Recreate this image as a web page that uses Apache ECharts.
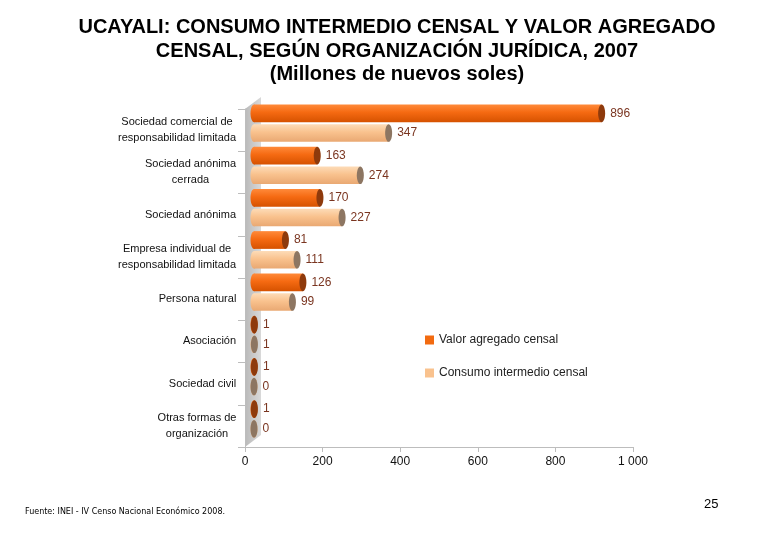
<!DOCTYPE html>
<html style="height: 100%">
<head>
    <meta charset="utf-8">
    <script src="https://cdn.jsdelivr.net/npm/echarts@6/dist/echarts.min.js"></script>
</head>
<body style="height: 100%; margin: 0; background: #fff">
    <div id="container" style="width: 766px; height: 540px"></div>
    <script type="text/javascript">
        var categories = [
            'Sociedad comercial de\nresponsabilidad limitada',
            'Sociedad anónima\ncerrada',
            'Sociedad anónima',
            'Empresa individual de\nresponsabilidad limitada',
            'Persona natural',
            'Asociación',
            'Sociedad civil',
            'Otras formas de\norganización'
        ];
        var valorAgregado = [896, 163, 170, 81, 126, 1, 1, 1];
        var consumoIntermedio = [347, 274, 227, 111, 99, 1, 0, 0];
        var xTicks = [0, 200, 400, 600, 800, 1000];

        var dom = document.getElementById('container');
        var myChart = echarts.init(dom);

        // colours for the two cylinder series
        var styles = [
            { top: '#ff8a3a', mid: '#f56a12', bot: '#d65200', cap: '#8e3a0c', legend: '#f26a10' },
            { top: '#fddcb8', mid: '#f9c28e', bot: '#e9a872', cap: '#8d7662', legend: '#f9c28e' }
        ];

        // y labels: block right aligned, lines centred inside the block
        var labelFont = '11px "Liberation Sans", Arial, sans-serif';
        var ctx = document.createElement('canvas').getContext('2d');
        ctx.font = labelFont;
        var rich = {};
        categories.forEach(function (c, i) {
            var w = 0;
            c.split('\n').forEach(function (l) { w = Math.max(w, ctx.measureText(l).width); });
            rich['c' + i] = {
                width: Math.ceil(w) + 1,
                align: 'center',
                fontFamily: 'Liberation Sans',
                fontSize: 11,
                lineHeight: 16,
                color: '#111'
            };
        });

        function cylinder(sIdx) {
            var st = styles[sIdx];
            return function (params, api) {
                var i = api.value(0);
                var v = api.value(1);
                var start = api.coord([0, i]);
                var end = api.coord([v, i]);
                var band = api.size([0, 1])[1];
                var t = band * 0.42;
                var cy = start[1] + (sIdx === 0 ? -(t / 2 + 1) : (t / 2 + 1));
                var rx = 3.5;
                var grad = new echarts.graphic.LinearGradient(0, 0, 0, 1, [
                    { offset: 0, color: st.top },
                    { offset: 0.45, color: st.mid },
                    { offset: 1, color: st.bot }
                ]);
                return {
                    type: 'group',
                    children: [
                        {
                            type: 'ellipse',
                            shape: { cx: start[0], cy: cy, rx: rx, ry: t / 2 },
                            style: { fill: grad }
                        },
                        {
                            type: 'rect',
                            shape: { x: start[0], y: cy - t / 2, width: end[0] - start[0], height: t },
                            style: { fill: grad }
                        },
                        {
                            type: 'ellipse',
                            shape: { cx: end[0], cy: cy, rx: rx, ry: t / 2 },
                            style: { fill: st.cap }
                        },
                        {
                            type: 'text',
                            x: end[0] + rx + 5,
                            y: cy,
                            style: {
                                text: String(v),
                                fill: '#7a3520',
                                font: '12px "Liberation Sans", Arial, sans-serif',
                                verticalAlign: 'middle',
                                align: 'left'
                            }
                        }
                    ]
                };
            };
        }

        function toData(arr) {
            return arr.map(function (v, i) { return [i, v]; });
        }

        var option = {
            backgroundColor: '#fff',
            animation: false,
            title: {
                text: 'UCAYALI: CONSUMO INTERMEDIO CENSAL Y VALOR AGREGADO\nCENSAL, SEGÚN ORGANIZACIÓN JURÍDICA, 2007\n(Millones de nuevos soles)',
                left: 392,
                textAlign: 'center',
                top: 11,
                textStyle: {
                    fontFamily: 'Liberation Sans',
                    fontSize: 20,
                    fontWeight: 'bold',
                    color: '#000',
                    lineHeight: 23.5
                }
            },
            legend: {
                orient: 'vertical',
                left: 420,
                top: 329,
                itemWidth: 9,
                itemHeight: 9,
                itemGap: 21,
                textStyle: { fontFamily: 'Liberation Sans', fontSize: 12, color: '#222' },
                data: [
                    { name: 'Valor agregado censal', icon: 'rect', itemStyle: { color: styles[0].legend } },
                    { name: 'Consumo intermedio censal', icon: 'rect', itemStyle: { color: styles[1].legend } }
                ]
            },
            graphic: [
                {
                    type: 'polygon',
                    shape: { points: [[245, 109], [261, 97], [261, 435], [245, 447]] },
                    style: {
                        fill: new echarts.graphic.LinearGradient(0, 0, 1, 0, [
                            { offset: 0, color: '#b9b9b9' },
                            { offset: 1, color: '#d9d9d9' }
                        ])
                    },
                    z: 0
                },
                {
                    type: 'text',
                    left: 25,
                    top: 508,
                    style: {
                        text: 'Fuente: INEI - IV Censo Nacional Económico 2008.',
                        font: '8px "DejaVu Sans", sans-serif',
                        fill: '#000'
                    }
                },
                {
                    type: 'text',
                    left: 704,
                    top: 498,
                    style: {
                        text: '25',
                        font: '13px "Liberation Sans", Arial, sans-serif',
                        fill: '#000'
                    }
                }
            ],
            grid: [
                { left: 245, right: 133, top: 109, bottom: 93 },
                { left: 254, right: 124, top: 102, bottom: 100 }
            ],
            xAxis: [
                {
                    gridIndex: 0,
                    type: 'value',
                    min: 0,
                    max: 1000,
                    interval: 200,
                    axisLine: { show: true, lineStyle: { color: '#bdbdbd' } },
                    axisTick: { show: true, length: 5, lineStyle: { color: '#bdbdbd' } },
                    splitLine: { show: false },
                    axisLabel: {
                        margin: 9,
                        fontFamily: 'Liberation Sans',
                        fontSize: 12,
                        color: '#111',
                        formatter: function (v) { return v === 1000 ? '1 000' : String(v); }
                    }
                },
                {
                    gridIndex: 1,
                    type: 'value',
                    min: 0,
                    max: 1000,
                    interval: 200,
                    show: false
                }
            ],
            yAxis: [
                {
                    gridIndex: 0,
                    type: 'category',
                    inverse: true,
                    data: categories,
                    axisLine: { show: true, lineStyle: { color: '#bdbdbd' } },
                    axisTick: { show: true, length: 7, lineStyle: { color: '#bdbdbd' } },
                    axisLabel: {
                        margin: 8,
                        rich: rich,
                        formatter: function (v, idx) {
                            return v.split('\n').map(function (l) {
                                return '{c' + idx + '|' + l + '}';
                            }).join('\n');
                        }
                    }
                },
                {
                    gridIndex: 1,
                    type: 'category',
                    inverse: true,
                    data: categories,
                    show: false
                }
            ],
            series: [
                {
                    name: 'Valor agregado censal',
                    type: 'custom',
                    xAxisIndex: 1,
                    yAxisIndex: 1,
                    encode: { x: 1, y: 0 },
                    renderItem: cylinder(0),
                    itemStyle: { color: styles[0].legend },
                    data: toData(valorAgregado),
                    z: 3
                },
                {
                    name: 'Consumo intermedio censal',
                    type: 'custom',
                    xAxisIndex: 1,
                    yAxisIndex: 1,
                    encode: { x: 1, y: 0 },
                    renderItem: cylinder(1),
                    itemStyle: { color: styles[1].legend },
                    data: toData(consumoIntermedio),
                    z: 3
                }
            ]
        };

        myChart.setOption(option);
    </script>
</body>
</html>
